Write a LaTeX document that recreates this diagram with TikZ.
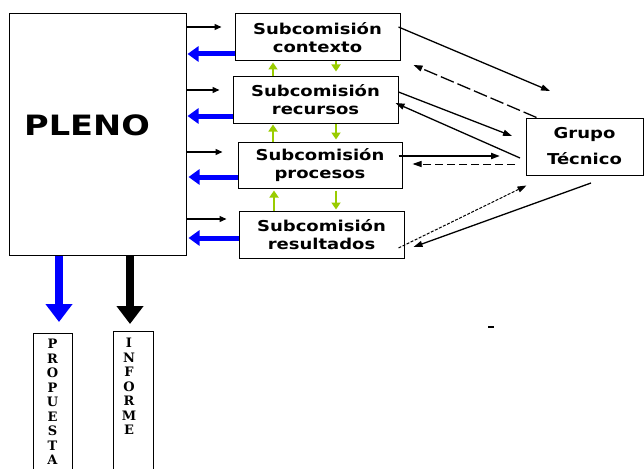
\documentclass[tikz,border=0pt]{standalone}
\usepackage{fontspec}
\usetikzlibrary{arrows.meta,calc}
\newfontfamily\boxfont{DejaVu Sans Bold}[FakeStretch=1.2]
\newfontfamily\vfont{DejaVu Serif Bold}
\definecolor{lime}{RGB}{153,204,0}
\tikzset{
  box/.style={draw, line width=1pt, fill=white, inner sep=0pt},
  sub/.style={box, minimum width=165pt, minimum height=47pt, align=center,
    font=\boxfont\fontsize{15}{18}\selectfont},
  toarrow/.style={line width=1.3pt, -{Triangle[length=7pt,width=6pt]}},
  backarrow/.style={draw=blue, line width=5pt, -{Triangle[length=11pt,width=15pt]}, blue},
  greenarrow/.style={draw=lime, line width=2.5pt, -{Triangle[length=7pt,width=9pt]}, lime},
  linkarrow/.style={line width=1.3pt, -{Triangle[length=9pt,width=6pt]}},
  bigarrow/.style={line width=8pt, -{Triangle[length=18pt,width=26pt]}},
  vletters/.style={anchor=north, align=center, inner sep=0pt,
    font=\vfont\fontsize{13}{14.5}\selectfont}
}
\begin{document}
\begin{tikzpicture}[x=1pt,y=-1pt]
\useasboundingbox (0,0) rectangle (644,468);
% main boxes
\node[box, minimum width=177pt, minimum height=241pt] (pleno) at (97.5,134.5) {};
\node[font=\boxfont\fontsize{28}{28}\selectfont] (plenotext) at (87,125) {PLENO};
\node[sub] (contexto) at (317.5,37.5) {Subcomisión\\contexto};
\node[sub, minimum height=46pt] (recursos) at (315.5,100) {Subcomisión\\recursos};
\node[sub, minimum width=164pt, minimum height=46pt] (procesos) at (320,165) {Subcomisión\\procesos};
\node[sub] (resultados) at (321.5,234.5) {Subcomisión\\resultados};
\node[box, minimum width=117pt, minimum height=57pt, align=center,
  font=\boxfont\fontsize{15}{26}\selectfont] (grupo) at (584.5,146.5) {Grupo\\Técnico};
% output boxes
\node[box, minimum width=39pt, minimum height=150pt, anchor=north] (propuesta) at (52.5,333) {};
\node[vletters] (propuestatext) at (52.5,339) {P\\R\\O\\P\\U\\E\\S\\T\\A};
\node[box, minimum width=40pt, minimum height=150pt, anchor=north] (informe) at (133,331) {};
\node[vletters] (informetext) at (129,338) {I\\N\\F\\O\\R\\M\\E};
% pleno -> subcomisiones
\draw[toarrow] (pleno.east |- 0,27) -- ($(contexto.west |- 0,27)+(-13,0)$);
\draw[toarrow] (pleno.east |- 0,90) -- ($(recursos.west |- 0,90)+(-13,0)$);
\draw[toarrow] (pleno.east |- 0,152) -- ($(procesos.west |- 0,152)+(-15,0)$);
\draw[toarrow] (pleno.east |- 0,219) -- ($(resultados.west |- 0,219)+(-12,0)$);
% subcomisiones -> pleno
\draw[backarrow] (contexto.west |- 0,54) -- ($(pleno.east |- 0,54)+(1,0)$);
\draw[backarrow] (recursos.west |- 0,116) -- ($(pleno.east |- 0,116)+(1,0)$);
\draw[backarrow] (procesos.west |- 0,177) -- ($(pleno.east |- 0,177)+(2,0)$);
\draw[backarrow] (resultados.west |- 0,238) -- ($(pleno.east |- 0,238)+(2,0)$);
% green arrows between subcomisiones
\draw[greenarrow] (recursos.north -| 273,0) -- ($(contexto.south -| 273,0)+(0,1)$);
\draw[greenarrow] (contexto.south -| 336,0) -- ($(recursos.north -| 336,0)+(0,-5)$);
\draw[greenarrow] (procesos.north -| 273,0) -- ($(recursos.south -| 273,0)+(0,1)$);
\draw[greenarrow] (recursos.south -| 336,0) -- ($(procesos.north -| 336,0)+(0,-2)$);
\draw[greenarrow] (resultados.north -| 274,0) -- ($(procesos.south -| 274,0)+(0,2)$);
\draw[greenarrow] ($(procesos.south -| 336,0)+(0,2)$) -- ($(resultados.north -| 336,0)+(0,-1)$);
% links with grupo tecnico
\coordinate (t1) at (550,91);
\coordinate (t3) at (512,136);
\coordinate (s4) at (520,158);
\coordinate (t5) at (500,156);
\coordinate (s6) at (515,164);
\coordinate (s8) at (591,183);
\draw[linkarrow] ($(contexto.east |- 0,27)+(-2,0)$) -- (t1);
\draw[linkarrow, dash pattern=on 14pt off 4pt] ($(grupo.north west)+(11,0)$) -- ($(contexto.east |- 0,65)+(13,0)$);
\draw[linkarrow] (recursos.east |- 0,92) -- (t3);
\draw[linkarrow] (s4) -- ($(recursos.east |- 0,103)+(-3,0)$);
\draw[linkarrow, line width=2pt] ($(procesos.east |- 0,156)+(-4,0)$) -- (t5);
\draw[linkarrow, line width=1pt, dash pattern=on 8pt off 4pt] (s6) -- ($(procesos.east |- 0,164)+(10,0)$);
\draw[linkarrow, line width=1pt, dash pattern=on 3pt off 1.5pt] ($(resultados.east |- 0,248)+(-6,0)$) -- ($(grupo.south west)+(1,10)$);
\draw[linkarrow] (s8) -- ($(resultados.east |- 0,247)+(9,0)$);
% outputs
\draw[bigarrow, blue] (pleno.south -| 59,0) -- (59,322);
\draw[bigarrow] (pleno.south -| 130,0) -- (130,324);
% small mark
\draw[line width=1.5pt] (488,327) -- (494,327);
\end{tikzpicture}
\end{document}
